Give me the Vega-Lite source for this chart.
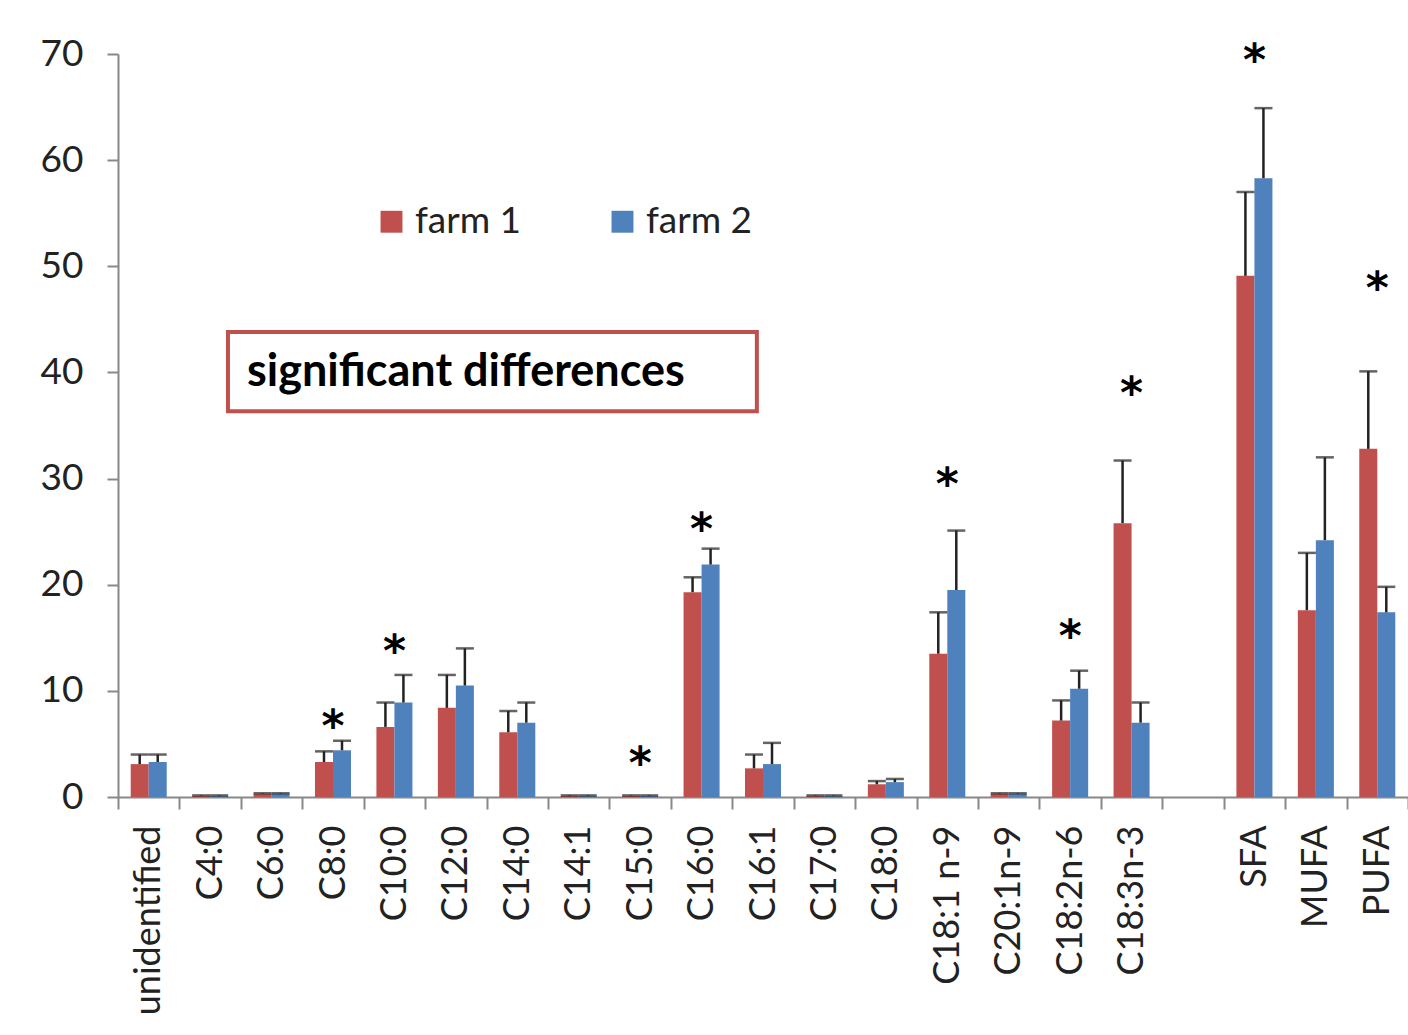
{
  "$schema": "https://vega.github.io/schema/vega-lite/v6.json",
  "width": 1290,
  "height": 743,
  "autosize": {"type": "none"},
  "padding": {"left": 118, "top": 54, "right": 0, "bottom": 238},
  "background": "white",
  "config": {"view": {"stroke": null}, "font": "Lato"},
  "datasets": {
    "fa": [
      {"cat": "unidentified", "farm": "farm 1", "value": 3.1, "err": 4.0},
      {"cat": "unidentified", "farm": "farm 2", "value": 3.3, "err": 4.0},
      {"cat": "C4:0", "farm": "farm 1", "value": 0.1, "err": 0.15},
      {"cat": "C4:0", "farm": "farm 2", "value": 0.1, "err": 0.15},
      {"cat": "C6:0", "farm": "farm 1", "value": 0.3, "err": 0.35},
      {"cat": "C6:0", "farm": "farm 2", "value": 0.3, "err": 0.35},
      {"cat": "C8:0", "farm": "farm 1", "value": 3.3, "err": 4.3},
      {"cat": "C8:0", "farm": "farm 2", "value": 4.4, "err": 5.3},
      {"cat": "C10:0", "farm": "farm 1", "value": 6.6, "err": 8.9},
      {"cat": "C10:0", "farm": "farm 2", "value": 8.9, "err": 11.5},
      {"cat": "C12:0", "farm": "farm 1", "value": 8.4, "err": 11.5},
      {"cat": "C12:0", "farm": "farm 2", "value": 10.5, "err": 14.0},
      {"cat": "C14:0", "farm": "farm 1", "value": 6.1, "err": 8.1},
      {"cat": "C14:0", "farm": "farm 2", "value": 7.0, "err": 8.9},
      {"cat": "C14:1", "farm": "farm 1", "value": 0.1, "err": 0.15},
      {"cat": "C14:1", "farm": "farm 2", "value": 0.1, "err": 0.15},
      {"cat": "C15:0", "farm": "farm 1", "value": 0.1, "err": 0.15},
      {"cat": "C15:0", "farm": "farm 2", "value": 0.1, "err": 0.15},
      {"cat": "C16:0", "farm": "farm 1", "value": 19.3, "err": 20.7},
      {"cat": "C16:0", "farm": "farm 2", "value": 21.9, "err": 23.4},
      {"cat": "C16:1", "farm": "farm 1", "value": 2.7, "err": 4.0},
      {"cat": "C16:1", "farm": "farm 2", "value": 3.1, "err": 5.1},
      {"cat": "C17:0", "farm": "farm 1", "value": 0.1, "err": 0.15},
      {"cat": "C17:0", "farm": "farm 2", "value": 0.1, "err": 0.15},
      {"cat": "C18:0", "farm": "farm 1", "value": 1.2, "err": 1.5},
      {"cat": "C18:0", "farm": "farm 2", "value": 1.4, "err": 1.7},
      {"cat": "C18:1 n-9", "farm": "farm 1", "value": 13.5, "err": 17.4},
      {"cat": "C18:1 n-9", "farm": "farm 2", "value": 19.5, "err": 25.1},
      {"cat": "C20:1n-9", "farm": "farm 1", "value": 0.3, "err": 0.35},
      {"cat": "C20:1n-9", "farm": "farm 2", "value": 0.3, "err": 0.35},
      {"cat": "C18:2n-6", "farm": "farm 1", "value": 7.2, "err": 9.1},
      {"cat": "C18:2n-6", "farm": "farm 2", "value": 10.2, "err": 11.9},
      {"cat": "C18:3n-3", "farm": "farm 1", "value": 25.8, "err": 31.7},
      {"cat": "C18:3n-3", "farm": "farm 2", "value": 7.0, "err": 8.9},
      {"cat": "SFA", "farm": "farm 1", "value": 49.1, "err": 57.0},
      {"cat": "SFA", "farm": "farm 2", "value": 58.3, "err": 64.9},
      {"cat": "MUFA", "farm": "farm 1", "value": 17.6, "err": 23.0},
      {"cat": "MUFA", "farm": "farm 2", "value": 24.2, "err": 32.0},
      {"cat": "PUFA", "farm": "farm 1", "value": 32.8, "err": 40.1},
      {"cat": "PUFA", "farm": "farm 2", "value": 17.4, "err": 19.8}
    ],
    "stars": [
      {"cat": "C8:0", "y": 7.3},
      {"cat": "C10:0", "y": 14.3},
      {"cat": "C15:0", "y": 3.8},
      {"cat": "C16:0", "y": 25.8},
      {"cat": "C18:1 n-9", "y": 30.1},
      {"cat": "C18:2n-6", "y": 15.7},
      {"cat": "C18:3n-3", "y": 38.6},
      {"cat": "SFA", "y": 70.0},
      {"cat": "PUFA", "y": 48.5}
    ],
    "note": [
      {"x1": 1.79, "x2": 10.4, "y1": 36.35, "y2": 43.8, "tx": 2.1, "ty": 40, "label": "significant differences"}
    ]
  },
  "layer": [
    {
      "encoding": {
        "x": {
          "field": "cat", "type": "nominal",
          "scale": {
            "domain": ["unidentified", "C4:0", "C6:0", "C8:0", "C10:0", "C12:0", "C14:0", "C14:1", "C15:0", "C16:0", "C16:1", "C17:0", "C18:0", "C18:1 n-9", "C20:1n-9", "C18:2n-6", "C18:3n-3", " ", "SFA", "MUFA", "PUFA"],
            "paddingInner": 0, "paddingOuter": 0
          },
          "axis": {
            "title": null, "labelAngle": -90, "labelFontSize": 36, "labelColor": "#222", "labelFont": "Lato",
            "labelLimit": 0, "labelOverlap": false,
            "tickBand": "extent", "tickSize": 12, "tickWidth": 2, "tickColor": "#888",
            "domainColor": "#888", "domainWidth": 2, "labelPadding": 16, "grid": false
          }
        },
        "y": {
          "type": "quantitative",
          "scale": {"domain": [0, 70], "nice": false, "zero": true},
          "axis": {
            "title": null, "values": [0, 10, 20, 30, 40, 50, 60, 70], "labelFontSize": 37, "labelColor": "#222",
            "labelFont": "Lato", "tickSize": 11, "tickWidth": 2, "tickColor": "#888", "domainColor": "#888",
            "domainWidth": 2, "labelPadding": 24, "grid": false
          }
        }
      },
      "layer": [
        {
          "data": {"name": "fa"},
          "mark": {"type": "bar"},
          "encoding": {
            "xOffset": {"field": "farm", "type": "nominal", "scale": {"paddingInner": 0, "paddingOuter": 0.705}},
            "y": {"field": "value", "type": "quantitative"},
            "color": {
              "field": "farm", "type": "nominal",
              "scale": {"domain": ["farm 1", "farm 2"], "range": ["#C0504D", "#4F81BD"]},
              "legend": {
                "orient": "none", "legendX": 255, "legendY": 149, "direction": "horizontal", "title": null,
                "symbolType": "square", "symbolSize": 480, "symbolStrokeWidth": 0, "labelFontSize": 37,
                "labelFont": "Lato", "labelColor": "#222", "labelOffset": 5, "columnPadding": 82
              }
            }
          }
        },
        {
          "data": {"name": "fa"},
          "mark": {"type": "rule", "color": "#222", "strokeWidth": 2.5},
          "encoding": {
            "xOffset": {"field": "farm", "type": "nominal"},
            "y": {"field": "value", "type": "quantitative"},
            "y2": {"field": "err"}
          }
        },
        {
          "data": {"name": "fa"},
          "mark": {"type": "tick", "color": "#222", "thickness": 2.5, "size": 18, "orient": "horizontal"},
          "encoding": {
            "xOffset": {"field": "farm", "type": "nominal"},
            "y": {"field": "err", "type": "quantitative"}
          }
        },
        {
          "data": {"name": "stars"},
          "mark": {"type": "text", "text": "*", "fontSize": 44, "fontWeight": "bold", "font": "DejaVu Sans", "color": "#000", "baseline": "middle", "dy": 8},
          "encoding": {
            "y": {"field": "y", "type": "quantitative"}
          }
        }
      ]
    },
    {
      "data": {"name": "note"},
      "layer": [
        {
          "mark": {"type": "rect", "fill": null, "fillOpacity": 0, "stroke": "#C0504D", "strokeWidth": 4},
          "encoding": {
            "x": {"field": "x1", "type": "quantitative", "scale": {"domain": [0, 21], "nice": false, "zero": false}, "axis": null},
            "x2": {"field": "x2"},
            "y": {"field": "y1", "type": "quantitative"},
            "y2": {"field": "y2"}
          }
        },
        {
          "mark": {"type": "text", "align": "left", "baseline": "middle", "fontSize": 45, "fontWeight": "bold", "font": "Lato", "color": "#000"},
          "encoding": {
            "x": {"field": "tx", "type": "quantitative", "scale": {"domain": [0, 21], "nice": false, "zero": false}, "axis": null},
            "y": {"field": "ty", "type": "quantitative"},
            "text": {"field": "label"}
          }
        }
      ]
    }
  ],
  "resolve": {"scale": {"x": "independent"}, "axis": {"x": "independent"}}
}
